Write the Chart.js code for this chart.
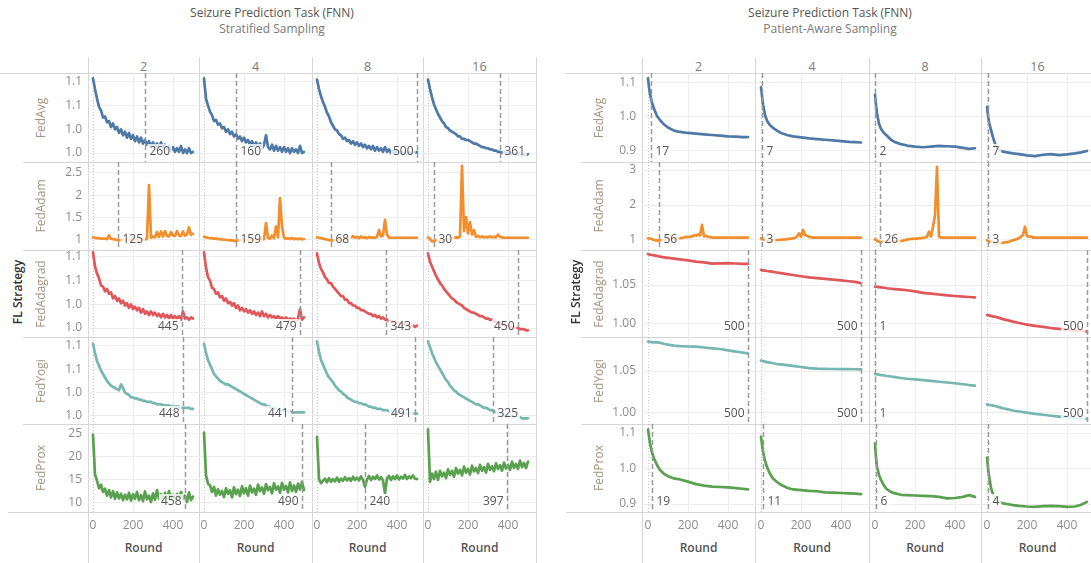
<!DOCTYPE html>
<html>
<head>
<meta charset="utf-8">
<script src="https://cdn.jsdelivr.net/npm/chart.js@4.4.1/dist/chart.umd.min.js"></script>
<style>
  body { margin: 0; width: 1091px; height: 563px; overflow: hidden; background: #fff; position: relative; font-family: "Open Sans", sans-serif; }
  .t { position: absolute; white-space: nowrap; transform: translate(-50%, -50%); }
  .rot { transform: translate(-50%, -50%) rotate(-90deg); }
  .ln { position: absolute; background: #d6d6d6; }
  canvas { position: absolute; }
</style>
</head>
<body>
<script>
// ---- data ----
const clients = [2, 4, 8, 16];
const strategies = ['FedAvg', 'FedAdam', 'FedAdagrad', 'FedYogi', 'FedProx'];
const roundTicks = [0, 200, 400];

const roundsFine = [0,10,20,30,40,50,60,70,80,90,100,110,120,130,140,150,160,170,180,190,200,210,220,230,240,250,260,270,280,290,300,310,320,330,340,350,360,370,380,390,400,410,420,430,440,450,460,470,480,490,500];
const roundsSmooth = [0,5,10,20,30,45,60,80,100,130,160,200,240,280,320,360,400,440,470,500];

// Stratified sampling, one list per client count (2, 4, 8, 16)
const strFedAvg = [
  [1.083,1.074,1.066,1.059,1.056,1.050,1.051,1.046,1.047,1.042,
   1.045,1.040,1.042,1.037,1.040,1.035,1.038,1.033,1.037,1.032,
   1.035,1.030,1.034,1.029,1.033,1.028,1.031,1.027,1.030,1.026,
   1.029,1.025,1.028,1.024,1.029,1.024,1.027,1.023,1.026,1.022,
   1.025,1.021,1.024,1.021,1.026,1.020,1.023,1.020,1.024,1.020,1.021],
  [1.083,1.066,1.060,1.055,1.052,1.047,1.048,1.044,1.045,1.041,
   1.042,1.038,1.040,1.036,1.038,1.034,1.036,1.032,1.034,1.030,
   1.033,1.029,1.031,1.027,1.030,1.026,1.029,1.025,1.028,1.024,
   1.027,1.035,1.025,1.023,1.027,1.022,1.026,1.022,1.025,1.021,
   1.025,1.021,1.024,1.020,1.024,1.021,1.023,1.020,1.026,1.020,1.021],
  [1.082,1.074,1.068,1.063,1.059,1.054,1.051,1.046,1.043,1.040,
   1.039,1.036,1.035,1.032,1.033,1.030,1.031,1.028,1.030,1.027,
   1.029,1.026,1.028,1.025,1.027,1.024,1.026,1.023,1.026,1.022,
   1.025,1.022,1.024,1.021,1.025,1.021,1.023,1.020,1.022,1.020,
   1.022,1.020,1.021,1.019,1.021,1.019,1.021,1.019,1.021,1.020,1.021],
  [1.082,1.074,1.067,1.061,1.057,1.053,1.050,1.047,1.045,1.042,
   1.041,1.039,1.038,1.037,1.036,1.034,1.034,1.032,1.032,1.031,
   1.031,1.030,1.029,1.028,1.028,1.027,1.026,1.025,1.025,1.024,
   1.024,1.023,1.023,1.022,1.022,1.021,1.021,1.020,1.021,1.020,
   1.020,1.019,1.020,1.019,1.019,1.019,1.019,1.018,1.019,1.018,1.019]
];
const strFedAdam = [
  [1.06,1.05,1.04,1.04,1.03,1.03,1.03,1.02,1.10,1.03,
   1.02,1.01,1.00,0.99,1.00,1.00,1.00,1.01,1.00,1.01,
   1.00,1.01,1.01,1.00,1.01,1.00,1.01,1.03,2.23,1.05,
   1.08,1.06,1.18,1.07,1.19,1.08,1.20,1.09,1.08,1.18,
   1.10,1.09,1.20,1.10,1.09,1.19,1.10,1.12,1.28,1.12,1.14],
  [1.07,1.06,1.05,1.04,1.04,1.03,1.03,1.02,1.02,1.01,
   1.01,1.00,1.00,0.99,0.99,0.98,0.98,0.99,0.99,1.00,
   1.00,1.00,1.00,1.01,1.00,1.01,1.00,1.01,1.00,1.01,
   1.02,1.38,1.05,1.03,1.10,1.04,1.30,1.06,1.94,1.30,
   1.05,1.03,1.04,1.02,1.05,1.02,1.03,1.02,1.03,1.02,1.02],
  [1.06,1.05,1.04,1.03,1.02,1.01,1.00,0.99,0.99,1.00,
   1.00,1.01,1.01,1.02,1.02,1.03,1.04,1.05,1.09,1.05,
   1.07,1.04,1.08,1.05,1.06,1.04,1.07,1.05,1.06,1.05,
   1.07,1.22,1.08,1.10,1.45,1.12,1.05,1.05,1.05,1.05,
   1.05,1.05,1.05,1.05,1.05,1.05,1.05,1.05,1.05,1.05,1.05],
  [1.06,1.02,0.97,0.98,0.99,1.00,1.00,1.01,1.01,1.02,
   1.02,1.03,1.04,1.05,1.06,1.05,1.08,2.66,1.20,1.51,
   1.15,1.40,1.12,1.22,1.07,1.09,1.06,1.08,1.06,1.07,
   1.06,1.08,1.06,1.07,1.06,1.12,1.07,1.06,1.05,1.05,
   1.05,1.05,1.05,1.05,1.05,1.05,1.05,1.05,1.05,1.05,1.05]
];
const strFedAdagrad = [
  [1.084,1.072,1.066,1.062,1.056,1.055,1.051,1.053,1.049,1.050,
   1.045,1.047,1.043,1.045,1.041,1.043,1.039,1.041,1.037,1.040,
   1.036,1.038,1.035,1.037,1.033,1.036,1.032,1.034,1.031,1.034,
   1.031,1.033,1.030,1.032,1.029,1.032,1.029,1.031,1.028,1.031,
   1.028,1.030,1.028,1.030,1.027,1.034,1.028,1.029,1.027,1.029,1.028],
  [1.084,1.071,1.063,1.060,1.054,1.053,1.049,1.050,1.046,1.047,
   1.043,1.045,1.041,1.042,1.039,1.041,1.037,1.039,1.035,1.037,
   1.034,1.036,1.033,1.035,1.032,1.034,1.031,1.033,1.030,1.034,
   1.030,1.032,1.029,1.031,1.029,1.030,1.028,1.030,1.028,1.029,
   1.027,1.029,1.027,1.028,1.027,1.028,1.026,1.028,1.036,1.027,1.029],
  [1.083,1.075,1.070,1.067,1.063,1.061,1.058,1.058,1.055,1.053,
   1.051,1.049,1.047,1.047,1.044,1.044,1.041,1.041,1.039,1.039,
   1.037,1.037,1.035,1.035,1.034,1.033,1.032,1.032,1.030,1.031,
   1.029,1.030,1.028,1.029,1.027,1.027,1.026,1.026,1.025,1.025,
   1.024,1.024,1.023,1.023,1.023,1.022,1.022,1.022,1.022,1.021,1.022],
  [1.083,1.076,1.072,1.068,1.064,1.061,1.058,1.056,1.053,1.051,
   1.049,1.047,1.045,1.044,1.042,1.041,1.040,1.039,1.037,1.036,
   1.035,1.034,1.033,1.033,1.032,1.031,1.030,1.030,1.029,1.028,
   1.028,1.027,1.027,1.026,1.025,1.025,1.024,1.023,1.023,1.022,
   1.022,1.021,1.021,1.020,1.020,1.020,1.019,1.019,1.019,1.018,1.018]
];
const strFedYogi = [
  [1.082,1.074,1.067,1.063,1.059,1.056,1.053,1.050,1.048,1.046,
   1.045,1.044,1.043,1.042,1.047,1.044,1.040,1.039,1.038,1.036,
   1.036,1.035,1.035,1.034,1.034,1.033,1.033,1.032,1.032,1.032,
   1.031,1.031,1.030,1.030,1.030,1.029,1.029,1.029,1.029,1.028,
   1.028,1.028,1.028,1.028,1.027,1.027,1.027,1.027,1.027,1.026,1.026],
  [1.082,1.074,1.068,1.064,1.060,1.056,1.054,1.052,1.050,1.049,
   1.048,1.047,1.047,1.046,1.045,1.044,1.043,1.042,1.041,1.040,
   1.039,1.038,1.037,1.036,1.035,1.034,1.033,1.032,1.031,1.030,
   1.030,1.029,1.028,1.028,1.027,1.027,1.026,1.026,1.025,1.025,
   1.025,1.024,1.024,1.024,1.023,1.023,1.023,1.023,1.023,1.023,1.023],
  [1.084,1.075,1.068,1.064,1.060,1.056,1.053,1.051,1.049,1.046,
   1.044,1.042,1.041,1.039,1.038,1.036,1.035,1.034,1.033,1.032,
   1.032,1.031,1.031,1.030,1.030,1.029,1.028,1.028,1.027,1.027,
   1.026,1.026,1.026,1.025,1.025,1.025,1.024,1.024,1.024,1.023,
   1.023,1.023,1.023,1.022,1.022,1.022,1.022,1.022,1.022,1.022,1.022],
  [1.084,1.079,1.074,1.070,1.066,1.063,1.060,1.057,1.054,1.051,
   1.049,1.046,1.044,1.042,1.041,1.039,1.038,1.037,1.036,1.035,
   1.034,1.033,1.032,1.031,1.030,1.030,1.029,1.028,1.027,1.027,
   1.026,1.025,1.025,1.024,1.023,1.023,1.022,1.022,1.021,1.021,
   1.020,1.020,1.020,1.019,1.019,1.019,1.019,1.018,1.018,1.018,1.018]
];
const strFedProx = [
  [24.8,16.2,14.8,13.2,14.0,12.4,13.1,11.6,12.8,11.2,
   12.6,10.9,12.3,11.0,12.0,10.6,11.8,10.8,12.2,10.5,
   11.9,10.9,12.4,10.6,11.7,10.4,12.5,10.8,11.6,10.2,
   12.1,10.7,12.8,10.9,11.9,10.3,12.2,11.0,12.6,10.8,
   11.8,10.5,12.0,10.7,12.4,10.9,11.6,10.2,12.3,10.6,11.4],
  [25.3,16.0,14.2,13.8,12.4,13.5,11.6,13.0,11.8,12.6,
   11.3,13.2,12.0,12.8,11.2,13.4,11.9,12.9,11.5,13.6,
   12.1,13.2,11.6,13.8,12.3,13.1,11.8,14.0,12.6,13.4,
   12.0,14.1,12.8,13.5,12.1,14.3,12.9,13.6,12.2,14.4,
   12.9,13.7,12.3,14.5,12.6,13.8,12.4,14.2,12.9,14.6,12.8],
  [24.4,15.2,14.3,14.8,15.3,14.5,15.4,14.6,15.2,14.7,
   15.5,14.6,15.3,14.8,15.6,14.9,15.4,14.8,15.7,15.0,
   15.5,14.9,15.8,15.0,13.5,15.1,15.9,15.0,15.7,15.2,
   16.0,15.1,15.6,14.9,12.1,15.3,15.9,15.0,15.8,15.2,
   16.0,15.1,15.7,15.3,16.1,15.2,15.8,15.4,16.0,15.3,15.2],
  [26.0,14.6,16.4,15.2,16.8,15.0,17.0,15.8,16.6,15.4,
   17.3,16.1,17.0,15.7,17.6,16.4,17.2,16.0,17.9,16.6,
   17.4,16.2,18.1,16.9,17.6,16.5,18.3,17.0,17.8,16.6,
   18.5,17.2,18.0,16.9,18.6,17.4,18.2,17.0,18.8,17.5,
   18.3,17.2,19.0,17.6,18.5,17.4,19.2,17.8,18.7,17.6,19.0]
];

// Patient-aware sampling
const patFedAvg = [
  [1.114,1.088,1.068,1.042,1.024,1.003,0.991,0.978,0.969,0.960,0.956,0.953,0.951,0.949,0.947,0.945,0.943,0.942,0.941,0.941],
  [1.087,1.062,1.037,1.006,0.989,0.976,0.968,0.960,0.953,0.947,0.943,0.940,0.937,0.935,0.933,0.931,0.929,0.927,0.926,0.925],
  [1.065,1.035,1.011,0.980,0.965,0.953,0.945,0.933,0.926,0.920,0.916,0.913,0.911,0.913,0.915,0.914,0.913,0.909,0.906,0.908],
  [1.030,1.005,0.985,0.962,0.940,0.912,0.903,0.898,0.896,0.893,0.891,0.887,0.885,0.889,0.891,0.888,0.890,0.893,0.896,0.900]
];
const patFedAdam = [
  [1.05,1.04,1.02,1.00,0.99,0.98,0.99,1.00,1.00,1.01,
   1.01,1.02,1.02,1.03,1.03,1.04,1.05,1.06,1.07,1.09,
   1.08,1.10,1.09,1.14,1.12,1.16,1.13,1.43,1.10,1.12,
   1.09,1.08,1.07,1.07,1.066,1.066,1.066,1.066,1.066,1.066,
   1.066,1.066,1.066,1.066,1.066,1.066,1.066,1.066,1.066,1.066,1.066],
  [1.05,1.02,1.00,0.99,0.98,0.98,0.99,1.00,1.00,1.00,
   1.01,1.01,1.02,1.02,1.03,1.04,1.05,1.06,1.10,1.19,
   1.10,1.29,1.14,1.12,1.09,1.08,1.066,1.066,1.066,1.066,
   1.066,1.066,1.066,1.066,1.066,1.066,1.066,1.066,1.066,1.066,
   1.066,1.066,1.066,1.066,1.066,1.066,1.066,1.066,1.066,1.066,1.066],
  [1.02,0.98,0.95,0.94,0.95,0.96,0.96,0.96,0.96,0.96,
   0.96,0.96,0.96,0.97,0.98,1.00,1.01,1.02,1.03,1.03,
   1.04,1.04,1.05,1.05,1.06,1.07,1.09,1.24,1.10,1.38,
   1.71,3.09,1.09,1.07,1.066,1.066,1.066,1.066,1.066,1.066,
   1.066,1.066,1.066,1.066,1.066,1.066,1.066,1.066,1.066,1.066,1.066],
  [0.99,0.96,0.94,0.92,0.91,0.90,0.90,0.91,0.92,0.93,
   0.94,0.95,0.97,0.99,1.01,1.03,1.05,1.10,1.14,1.38,
   1.12,1.09,1.10,1.07,1.066,1.066,1.066,1.066,1.066,1.066,
   1.066,1.066,1.066,1.066,1.066,1.066,1.066,1.066,1.066,1.066,
   1.066,1.066,1.066,1.066,1.066,1.066,1.066,1.066,1.066,1.066,1.066]
];
const patFedAdagrad = [
  [1.0897,1.0893,1.0890,1.0885,1.0880,1.0873,1.0863,1.0855,1.0848,1.0838,1.0828,1.0815,1.0800,1.0790,1.0775,1.0778,1.0780,1.0776,1.0772,1.0770],
  [1.0692,1.0690,1.0688,1.0684,1.0680,1.0674,1.0668,1.0660,1.0652,1.0640,1.0628,1.0612,1.0598,1.0588,1.0578,1.0570,1.0560,1.0548,1.0540,1.0525],
  [1.0478,1.0477,1.0476,1.0473,1.0470,1.0465,1.0458,1.0452,1.0447,1.0440,1.0433,1.0418,1.0400,1.0390,1.0378,1.0368,1.0359,1.0352,1.0346,1.0342],
  [1.0115,1.0112,1.0110,1.0104,1.0098,1.0090,1.0078,1.0062,1.0050,1.0030,1.0012,0.9992,0.9976,0.9962,0.9948,0.9938,0.9928,0.9918,0.9910,0.9902]
];
const patFedYogi = [
  [1.0849,1.0848,1.0847,1.0845,1.0842,1.0840,1.0837,1.0825,1.0815,1.0802,1.0796,1.0792,1.0790,1.0780,1.0770,1.0762,1.0745,1.0730,1.0720,1.0710],
  [1.0623,1.0620,1.0617,1.0612,1.0606,1.0600,1.0592,1.0583,1.0578,1.0570,1.0561,1.0548,1.0534,1.0528,1.0526,1.0524,1.0522,1.0522,1.0521,1.0520],
  [1.0464,1.0462,1.0460,1.0456,1.0452,1.0447,1.0441,1.0435,1.0428,1.0417,1.0408,1.0400,1.0391,1.0383,1.0372,1.0363,1.0354,1.0342,1.0333,1.0326],
  [1.0103,1.0100,1.0097,1.0092,1.0087,1.0080,1.0070,1.0057,1.0046,1.0030,1.0018,1.0004,0.9990,0.9979,0.9967,0.9957,0.9948,0.9940,0.9934,0.9929]
];
const patFedProx = [
  [1.110,1.092,1.071,1.045,1.028,1.010,0.996,0.985,0.978,0.972,0.969,0.963,0.956,0.952,0.949,0.948,0.947,0.945,0.943,0.941],
  [1.090,1.068,1.048,1.022,1.004,0.985,0.972,0.962,0.954,0.946,0.941,0.939,0.937,0.936,0.933,0.932,0.931,0.930,0.929,0.928],
  [1.071,1.030,1.005,0.982,0.968,0.952,0.941,0.934,0.930,0.926,0.925,0.924,0.923,0.922,0.920,0.916,0.917,0.920,0.925,0.920],
  [1.031,1.002,0.980,0.945,0.928,0.913,0.906,0.902,0.900,0.897,0.895,0.893,0.892,0.894,0.895,0.894,0.892,0.893,0.898,0.906]
];

// reference line rounds, per strategy row and client column
const stratRefs = [[260,160,500,361],[125,159,68,30],[445,479,343,450],[448,441,491,325],[458,490,240,397]];
const patRefs = [[17,7,2,7],[56,3,26,3],[500,500,1,500],[500,500,1,500],[19,11,6,4]];

// y axis ticks per strategy row
const stratTicks = [[1.02,1.04,1.06,1.08],[1,1.5,2,2.5],[1.02,1.04,1.06,1.08],[1.02,1.04,1.06,1.08],[10,15,20,25]];
const patTicks = [[0.9,1.0,1.1],[1,2,3],[1.00,1.05],[1.00,1.05],[0.9,1.0,1.1]];
const stratDecimals = [1, null, 1, 1, null];
const patDecimals = [1, 0, 2, 2, 1];

// ---- layout / style ----
const colors = ['#4e79a7', '#f28e2b', '#e15759', '#76b7b2', '#59a14f'];
const rowEdges = [73, 162, 250, 337, 424, 512];
const AXW = 45, AXH = 28;
const stratRanges = [[1.0124,1.0876],[0.776,2.746],[1.0124,1.0859],[1.0131,1.0877],[8.04,27.17]];
const patRanges = [[0.8676,1.1294],[0.714,3.229],[0.9833,1.0949],[0.9869,1.0905],[0.8775,1.1254]];

const panels = [
  { sub: 'Stratified Sampling', cx: 272, cols: [88,199,312,423,536], xMin: -25,
    series: [strFedAvg, strFedAdam, strFedAdagrad, strFedYogi, strFedProx],
    rounds: [roundsFine, roundsFine, roundsFine, roundsFine, roundsFine],
    refs: stratRefs, ticks: stratTicks, decimals: stratDecimals, ranges: stratRanges,
    labelX: 40, titleX: 17, topL: 0, rowL: 23, botL: 8, right: 536 },
  { sub: 'Patient-Aware Sampling', cx: 830, cols: [642,755,869,981,1094], xMin: -30,
    series: [patFedAvg, patFedAdam, patFedAdagrad, patFedYogi, patFedProx],
    rounds: [roundsSmooth, roundsFine, roundsSmooth, roundsSmooth, roundsSmooth],
    refs: patRefs, ticks: patTicks, decimals: patDecimals, ranges: patRanges,
    labelX: 598, titleX: 575, topL: 565, rowL: 581, botL: 566, right: 1091 }
];

Chart.defaults.font.family = '"Open Sans", sans-serif';
Chart.defaults.font.size = 12;

function addText(txt, x, y, css, rot) {
  const d = document.createElement('div');
  d.className = rot ? 't rot' : 't';
  d.textContent = txt;
  d.style.left = x + 'px';
  d.style.top = y + 'px';
  d.style.cssText += css;
  document.body.appendChild(d);
}
function addLine(x, y, w, h) {
  const d = document.createElement('div');
  d.className = 'ln';
  d.style.left = x + 'px'; d.style.top = y + 'px';
  d.style.width = w + 'px'; d.style.height = h + 'px';
  document.body.appendChild(d);
}

// fixed axis size, and no extra room asked for the end labels
function fixAxis(size) {
  return s => {
    if (s.isHorizontal()) s.height = size; else s.width = size;
    s.paddingTop = 0; s.paddingBottom = 0; s.paddingLeft = 0; s.paddingRight = 0;
  };
}

const refPlugin = {
  id: 'refLine',
  beforeDatasetsDraw(chart) {
    const { ctx, chartArea: a, scales: { x } } = chart;
    const px = Math.round(x.getPixelForValue(0)) + 0.5;
    ctx.save();
    ctx.strokeStyle = '#c4c4c4';
    ctx.lineWidth = 1;
    ctx.setLineDash([1, 2]);
    ctx.beginPath(); ctx.moveTo(px, a.top); ctx.lineTo(px, a.bottom); ctx.stroke();
    ctx.restore();
  },
  afterDatasetsDraw(chart, args, opts) {
    const { ctx, chartArea: a, scales: { x } } = chart;
    const px = Math.round(x.getPixelForValue(opts.value)) + 0.5;
    ctx.save();
    ctx.strokeStyle = '#9a9a9a';
    ctx.lineWidth = 1.5;
    ctx.setLineDash([5, 3]);
    ctx.beginPath(); ctx.moveTo(px, a.top); ctx.lineTo(px, a.bottom); ctx.stroke();
    ctx.setLineDash([]);
    const label = String(opts.value);
    ctx.font = '12px "Open Sans", sans-serif';
    const w = ctx.measureText(label).width;
    const tx = opts.value > 380 ? px - 4 - w : px + 4;
    const ty = a.bottom - 10;
    ctx.fillStyle = 'rgba(255,255,255,0.8)';
    ctx.fillRect(tx - 2, ty - 8, w + 4, 16);
    ctx.fillStyle = '#555';
    ctx.textBaseline = 'middle';
    ctx.fillText(label, tx, ty);
    ctx.restore();
  }
};

function fmt(v, d) {
  return d === null ? String(v) : v.toFixed(d);
}

panels.forEach(p => {
  // titles
  addText('Seizure Prediction Task (FNN)', p.cx, 12, 'font-size:12px;color:#555;');
  addText(p.sub, p.cx, 28, 'font-size:12px;color:#7a7a7a;');

  // frame lines
  addLine(p.topL, 73, p.right - p.topL, 1);
  for (let r = 1; r < 5; r++) addLine(p.rowL, rowEdges[r], p.right - p.rowL, 1);
  addLine(p.botL, 512, p.right - p.botL, 1);
  p.cols.forEach(cx => { if (cx < 1091) addLine(cx, 58, 1, 505); });

  // column headers and axis titles
  clients.forEach((n, c) => {
    const mid = (p.cols[c] + p.cols[c + 1]) / 2;
    addText(String(n), mid, 66, 'font-size:12.5px;color:#7a7a7a;');
    addText('Round', mid, 547, 'font-size:12px;font-weight:600;color:#555;');
  });
  addText('FL Strategy', p.titleX, 292, 'font-size:12px;font-weight:600;color:#333;', true);

  strategies.forEach((name, r) => {
    const y0 = rowEdges[r], y1 = rowEdges[r + 1];
    addText(name, p.labelX, (y0 + y1) / 2, 'font-size:12px;color:#a3937f;', true);

    p.series[r].forEach((vals, c) => {
      const x0 = p.cols[c], w = p.cols[c + 1] - x0, h = y1 - y0;
      const cv = document.createElement('canvas');
      cv.width = w + AXW;
      cv.height = h + AXH;
      cv.style.left = (x0 - AXW) + 'px';
      cv.style.top = y0 + 'px';
      document.body.appendChild(cv);

      const rounds = p.rounds[r];
      const isFirst = c === 0, isBottom = r === 4;
      const tickVals = p.ticks[r], dec = p.decimals[r];

      new Chart(cv, {
        type: 'line',
        data: {
          datasets: [{
            data: rounds.map((rd, i) => ({ x: rd, y: vals[i] })),
            borderColor: colors[r],
            borderWidth: 2.7,
            pointRadius: 0,
            tension: 0,
            borderJoinStyle: 'round',
            borderCapStyle: 'round'
          }]
        },
        options: {
          responsive: false,
          animation: false,
          devicePixelRatio: 1,
          events: [],
          layout: { padding: 0 },
          plugins: {
            legend: { display: false },
            tooltip: { enabled: false },
            refLine: { value: p.refs[r][c] }
          },
          scales: {
            x: {
              type: 'linear',
              min: p.xMin,
              max: p.xMin + w * 5,
              afterFit: fixAxis(AXH),
              afterBuildTicks: s => { s.ticks = roundTicks.map(v => ({ value: v })); },
              grid: { color: ctx => (ctx.tick && ctx.tick.value === 0) ? 'rgba(0,0,0,0)' : '#ededed', drawTicks: false },
              border: { display: false },
              ticks: { display: isBottom, color: '#8c8c8c', padding: 6, maxRotation: 0, autoSkip: false }
            },
            y: {
              min: p.ranges[r][0],
              max: p.ranges[r][1],
              afterFit: fixAxis(AXW),
              afterBuildTicks: s => { s.ticks = tickVals.map(v => ({ value: v })); },
              grid: { color: '#ededed', drawTicks: false },
              border: { display: false },
              ticks: { display: isFirst, color: '#8c8c8c', padding: 6, callback: v => fmt(v, dec) }
            }
          }
        },
        plugins: [refPlugin]
      });
    });
  });
});
</script>
</body>
</html>
